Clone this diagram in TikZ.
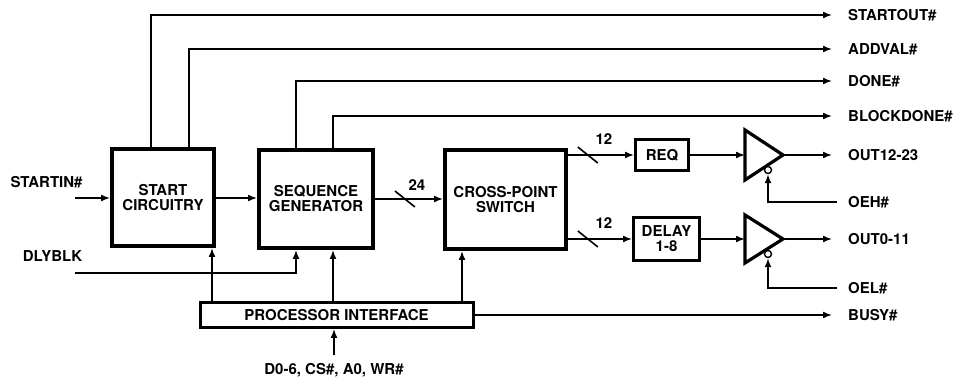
\documentclass[tikz,border=0pt]{standalone}
\usepackage{fontspec}
\setmainfont{TeX Gyre Heros}
\usetikzlibrary{arrows.meta,positioning}

\begin{document}
\begin{tikzpicture}[x=1pt, y=-1pt,
  font=\fontsize{15}{15}\selectfont\bfseries,
  blk/.style={draw, line width=4pt, align=center, inner sep=0pt},
  sblk/.style={draw, line width=3pt, align=center, inner sep=0pt},
  sig/.style={anchor=west, inner sep=0pt},
  wire/.style={line width=1.6pt},
  arr/.style={wire, -{Latex[length=9pt,width=7pt]}},
  buf/.style={line width=3.2pt, line join=miter},
  inv/.style={circle, draw, line width=1.4pt, minimum size=7pt, inner sep=0pt, fill=white}
]
\useasboundingbox (0,0) rectangle (954,379);

\node[blk, minimum width=102pt, minimum height=97pt] (start) at (163,197.5) {START\\CIRCUITRY};
\node[blk, minimum width=114pt, minimum height=98pt] (seq)   at (316,199)   {SEQUENCE\\GENERATOR};
\node[blk, minimum width=121pt, minimum height=99pt] (cp)    at (505.5,199.5) {CROSS-POINT\\SWITCH};
\node[sblk, minimum width=273pt, minimum height=25pt] (pi)   at (336.5,315) {PROCESSOR INTERFACE};
\node[sblk, minimum width=53pt, minimum height=31pt]  (req)  at (662,155)   {REQ};
\node[sblk, minimum width=66pt, minimum height=43pt]  (dly)  at (666.5,239) {DELAY\\1-8};

\coordinate (bufh) at (745,155);
\coordinate (tiph) at (783,155);
\coordinate (bufl) at (745,239);
\coordinate (tipl) at (783,239);
\draw[buf] (bufh) ++(0,-25) -- (tiph) -- ++(-38,25) -- cycle;
\draw[buf] (bufl) ++(0,-24) -- (tipl) -- ++(-38,24) -- cycle;

\node[sig] (startout)  at (848,15)  {STARTOUT\#};
\node[sig] (addval)    at (848,49)  {ADDVAL\#};
\node[sig] (done)      at (848,81)  {DONE\#};
\node[sig] (blockdone) at (848,116) {BLOCKDONE\#};
\node[sig] (outh)      at (848,155) {OUT12-23};
\node[sig] (oeh)       at (848,202) {OEH\#};
\node[sig] (outl)      at (848,239) {OUT0-11};
\node[sig] (oel)       at (848,288) {OEL\#};
\node[sig] (busy)      at (848,315) {BUSY\#};

\node[inner sep=0pt] (lstartin) at (46.5,182) {STARTIN\#};
\node[inner sep=0pt] (ldlyblk)  at (52.5,256) {DLYBLK};
\node[inner sep=0pt] (lproc)    at (334,370)  {D0-6, CS\#, A0, WR\#};
\coordinate (startin) at (75,198);
\coordinate (dlyin)   at (75,273);
\coordinate (procin)  at (334,355);

\coordinate (ps) at ([xshift=49pt]start.south);
\coordinate (ds) at ([xshift=-20pt]seq.south);
\coordinate (ss) at ([xshift=17pt]seq.south);
\coordinate (cs) at ([xshift=-43.5pt]cp.south);

\draw[arr] ([xshift=-12pt]start.north) |- ([xshift=-16pt]startout.west);
\draw[arr] ([xshift=26pt]start.north) |- ([xshift=-16pt]addval.west);
\draw[arr] ([xshift=-20pt]seq.north) |- ([xshift=-16pt]done.west);
\draw[arr] ([xshift=17pt]seq.north) |- ([xshift=-16pt]blockdone.west);

\draw[arr] (startin) -- (startin -| start.west);
\draw[arr] (start.east |- startin) -- (seq.west |- startin);
\draw[arr] (seq.east) -- coordinate[pos=0.44] (bus24) (cp.west |- seq.east);
\draw[wire] (bus24) +(-10,-8) -- +(10,8);
\node[above right=8.5pt and 3.5pt of bus24, inner sep=0pt] (n24) {24};

\draw[arr] (dlyin) -| (ds);
\draw[arr] (ps |- pi.north) -- (ps);
\draw[arr] (ss |- pi.north) -- (ss);
\draw[arr] (cs |- pi.north) -- (cs);
\draw[arr] (procin) -- (procin |- pi.south);
\draw[arr] (pi.east) -- ([xshift=-16pt]busy.west);

\draw[arr] (cp.east |- req) -- coordinate[pos=0.3] (bush) (req.west);
\draw[wire] (bush) +(-10,-8) -- +(10,8);
\node[above right=10.5pt and 7.5pt of bush, inner sep=0pt] (n12h) {12};
\draw[arr] (cp.east |- dly) -- coordinate[pos=0.31] (busl) (dly.west);
\draw[wire] (busl) +(-10,-8) -- +(10,8);
\node[above right=10.5pt and 7.5pt of busl, inner sep=0pt] (n12l) {12};

\draw[arr] (req.east) -- (bufh);
\draw[arr] (dly.east) -- (bufl);
\draw[arr] (tiph) -- ([xshift=-16pt]outh.west);
\draw[arr] (tipl) -- ([xshift=-16pt]outl.west);

\node[inv] (enh) at (768,170) {};
\node[inv] (enl) at (768,254) {};
\draw[arr] ([xshift=-11pt]oeh.west) -| (enh.south);
\draw[arr] ([xshift=-11pt]oel.west) -| (enl.south);
\end{tikzpicture}
\end{document}
